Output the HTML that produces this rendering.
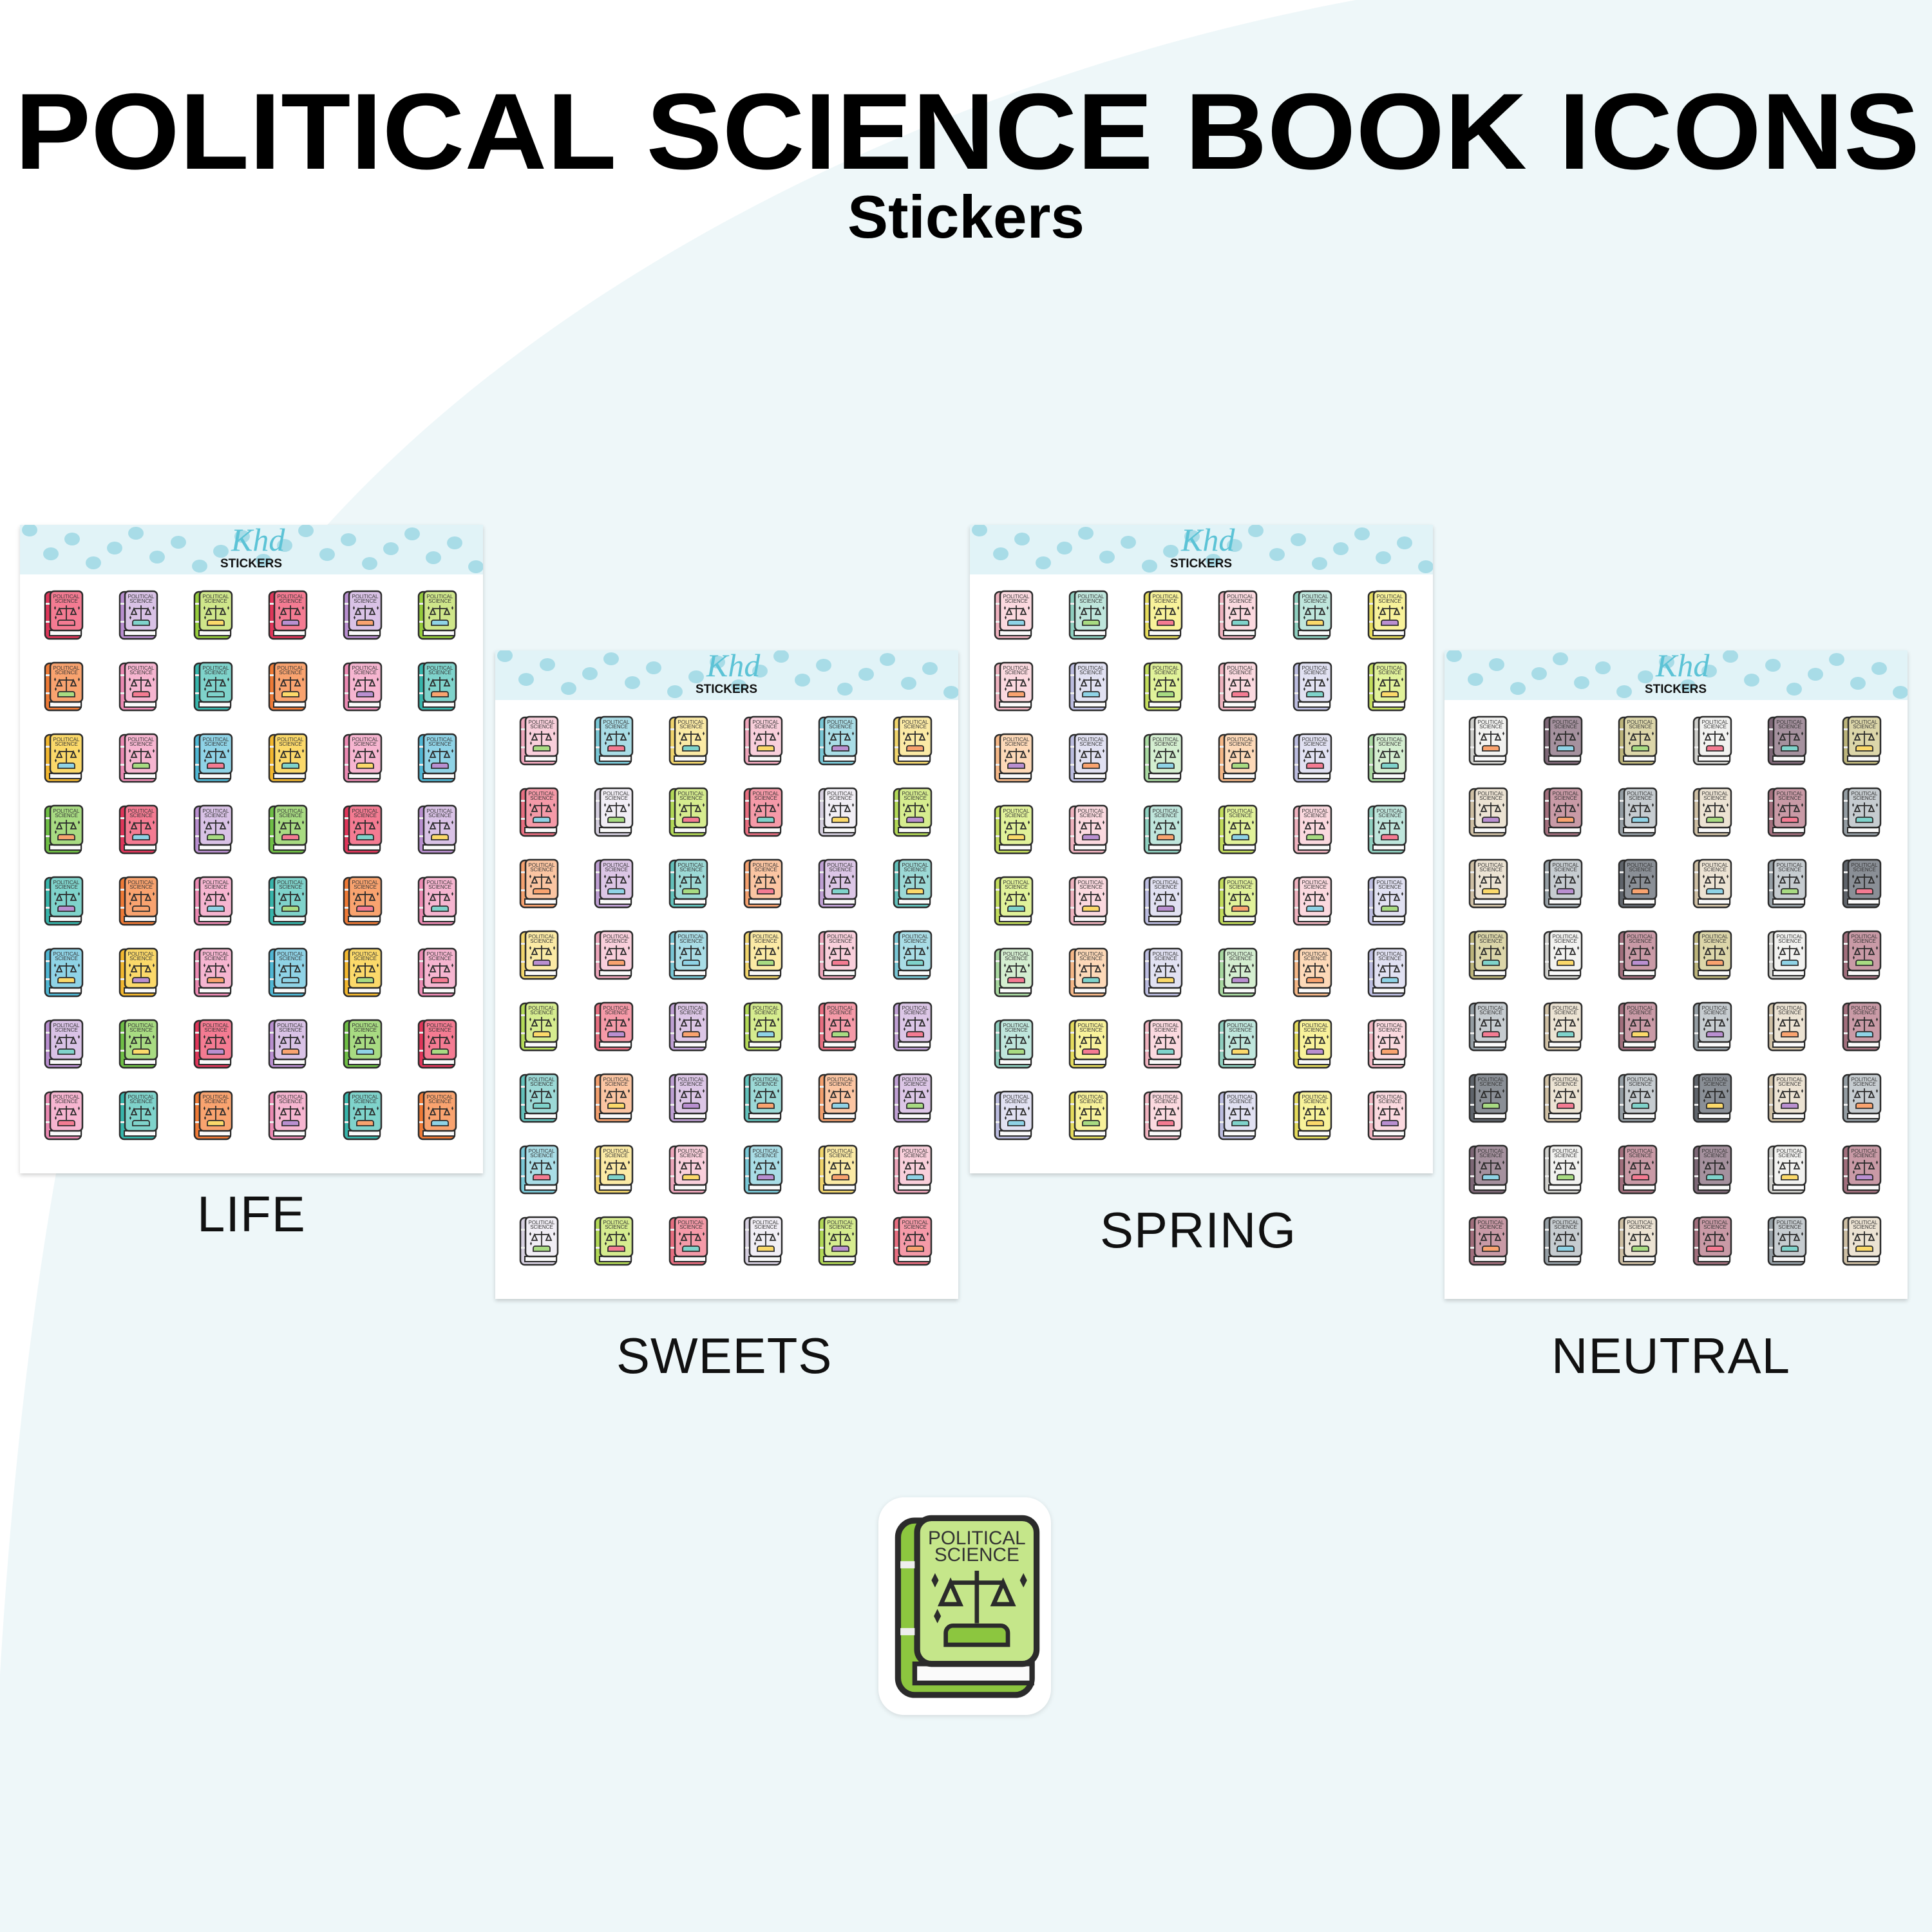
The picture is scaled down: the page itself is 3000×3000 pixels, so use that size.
<!DOCTYPE html>
<html><head><meta charset="utf-8">
<style>
html,body{margin:0;padding:0;}
body{width:3000px;height:3000px;position:relative;overflow:hidden;background:#fff;font-family:"Liberation Sans",sans-serif;}
.bg{position:absolute;left:0;top:0;}
.sheet{position:absolute;width:719px;height:1007px;background:#fff;box-shadow:0 3px 6px rgba(0,0,0,0.18);}
.hdr{position:absolute;left:0;top:0;width:719px;height:77px;background:#e1f3f7;overflow:hidden;}
.lbl{position:absolute;font-size:78px;color:#111;letter-spacing:1px;}
.big{position:absolute;left:1364px;top:2325px;width:268px;height:338px;background:#fff;border-radius:40px;box-shadow:0 2px 8px rgba(0,0,0,0.12);}
</style></head><body>
<svg class="bg" width="3000" height="3000"><path d="M2105,0 C1300,150 520,600 250,1200 C100,1600 30,2100 0,2600 L0,3000 L3000,3000 L3000,0 Z" fill="#eef7f9"/>
<text x="23" y="262" font-family="Liberation Sans" font-weight="bold" font-size="168" textLength="2958" lengthAdjust="spacingAndGlyphs" fill="#000">POLITICAL SCIENCE BOOK ICONS</text>
<text x="1316" y="369" font-family="Liberation Sans" font-weight="bold" font-size="94" textLength="368" lengthAdjust="spacingAndGlyphs" fill="#000">Stickers</text>
</svg>
<div id="sheets"></div>
<div class="lbl" style="left:306px;top:1840px;">LIFE</div>
<div class="lbl" style="left:957px;top:2060px;">SWEETS</div>
<div class="lbl" style="left:1708px;top:1865px;">SPRING</div>
<div class="lbl" style="left:2409px;top:2060px;">NEUTRAL</div>
<div class="big" id="big"></div>
<script>
function icon(c,s,acc,w,h){
return '<svg width="'+w+'" height="'+h+'" viewBox="0 0 62 79">'+
'<rect x="2" y="3" width="56" height="73" rx="7" fill="'+s+'" stroke="#2b2b2b" stroke-width="2.5"/>'+
'<rect x="9" y="63" width="49" height="8" fill="#fafafa" stroke="#2b2b2b" stroke-width="2"/>'+
'<rect x="10" y="2" width="50" height="61" rx="6" fill="'+c+'" stroke="#2b2b2b" stroke-width="2.5"/>'+
'<rect x="3" y="20" width="6" height="3" fill="#eee"/><rect x="3" y="48" width="6" height="3" fill="#eee"/>'+
'<text x="35" y="13" font-size="8" text-anchor="middle" font-family="Liberation Sans Narrow,Liberation Sans" fill="#333">POLITICAL</text>'+
'<text x="35" y="20" font-size="8" text-anchor="middle" font-family="Liberation Sans Narrow,Liberation Sans" fill="#333">SCIENCE</text>'+
'<path d="M22,55 h26 v-5 a3,3 0 0 0 -3,-3 h-20 a3,3 0 0 0 -3,3z" fill="'+acc+'" stroke="#2b2b2b" stroke-width="1.8"/>'+
'<path d="M35,24 v22 M24,29 h22 M24,29 l-4,9 h8z M46,29 l-4,9 h8z" fill="none" stroke="#2b2b2b" stroke-width="1.8"/>'+
'<path d="M16,28 l1.5,-3 1.5,3 -1.5,3z M53,28 l1.5,-3 1.5,3 -1.5,3z M17,43 l1.5,-3 1.5,3 -1.5,3z" fill="#2b2b2b"/>'+
'</svg>';}
var P={
r:['#f47b92','#e0365a'],l:['#d9c2e6','#b98fd0'],m:['#cfe68a','#96cc3c'],o:['#f9a36f','#ef7a36'],p:['#f6b5d0','#ec8ab3'],t:['#7fd3cb','#37b5ab'],y:['#fbd96a','#f3b82f'],b:['#8fd3e6','#4fb7d4'],g:['#a8db82','#6fbf45'],
R:['#f9cfdb','#eea6bb'],B:['#a9dde6','#79c7d6'],Y:['#fbeaa5','#f1d56c'],X:['#f59aa8','#e86e80'],W:['#f1eef5','#d6d0e0'],M:['#d6ec8f','#b3d957'],O:['#fbc5a2','#f4a06e'],L:['#dcc6e6','#bfa0d4'],T:['#9cd9d6','#62c1bb'],
a:['#fbd9df','#f0b3bf'],c:['#bfe6dc','#8fd0c0'],d:['#f8f29a','#e6dc5c'],e:['#e1e1f2','#bcbde0'],f:['#e1f29a','#c3dd5c'],h:['#fdd9b8','#f6b887'],i:['#d4eed0','#a9d9a1'],
n1:['#f2f2f0','#d0d0cc'],n2:['#a5919e','#7d6776'],n3:['#dcd6a9','#bdb57b'],n4:['#ece3d3','#cfc0a4'],n5:['#c99aa6','#a26f7d'],n6:['#c6ccd0','#959ea4'],n7:['#8a8f96','#5f646b']};
var acc=['#f47b92','#7fd3cb','#fbd96a','#b98fd0','#f9a36f','#8fd3e6','#a8db82'];
var sheets=[
[31,815,['r l m','o p t','y p b','g r l','t o p','b y p','l g r','p t o']],
[769,1010,['R B Y','X W M','O L T','Y R B','M X L','T O L','B Y R','W M X']],
[1506,815,['a c d','a e f','h e i','f a c','f a e','i h e','c d a','e d a']],
[2243,1010,['n1 n2 n3','n4 n5 n6','n4 n6 n7','n3 n1 n5','n6 n4 n5','n7 n4 n6','n2 n1 n5','n5 n6 n4']]];
var out='',k=0;
sheets.forEach(function(S){
var h='<div class="sheet" style="left:'+S[0]+'px;top:'+S[1]+'px"><div class="hdr"><svg width="719" height="77">';
for(var i=0;i<22;i++){h+='<ellipse cx="'+(15+i*33)+'" cy="'+((i*37)%60+8)+'" rx="12" ry="10" fill="#a8dce7"/>';}
h+='<text x="328" y="40" font-size="50" font-style="italic" font-family="Liberation Serif" fill="#5cc3d6">Khd</text><text x="359" y="66" font-size="19" font-weight="bold" text-anchor="middle" fill="#111">STICKERS</text></svg></div>';
S[2].forEach(function(row,ri){var cs=row.split(' ');for(var ci=0;ci<6;ci++){var p=P[cs[ci%3]];
h+='<div style="position:absolute;left:'+(37+ci*116)+'px;top:'+(101+ri*111)+'px">'+icon(p[0],p[1],acc[(k++)%7],62,79)+'</div>';}});
h+='</div>';out+=h;});
document.getElementById('sheets').innerHTML=out;
document.getElementById('big').innerHTML='<div style="position:absolute;left:23px;top:24px">'+icon('#c5e68a','#8cc63f','#8cc63f',230,295)+'</div>';
</script>
</body></html>
